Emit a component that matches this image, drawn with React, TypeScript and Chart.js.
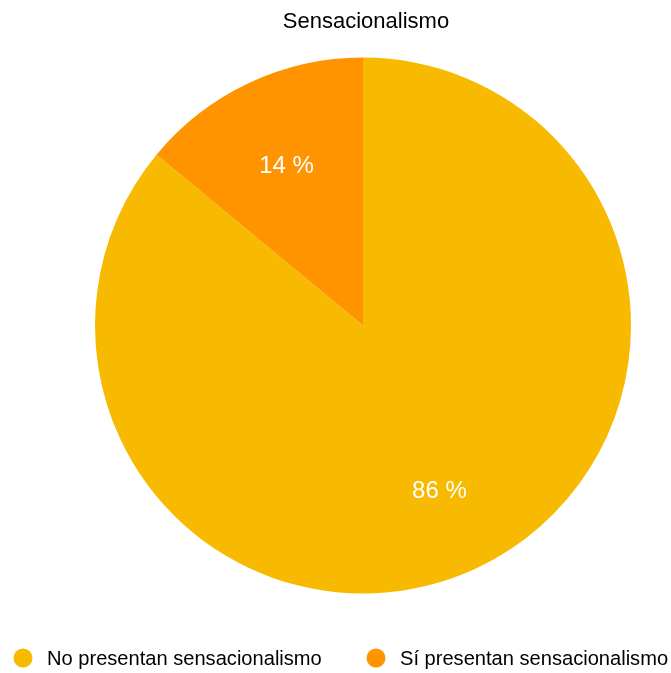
import React, { useEffect, useRef } from "react";
import { Chart, registerables } from "chart.js";

Chart.register(...registerables);

const title = "Sensacionalismo";
const categories = ["No presentan sensacionalismo", "Sí presentan sensacionalismo"];
const values = [86, 14];
const colors = ["rgb(247,186,0)", "rgb(255,148,0)"];
const FONT = "'Liberation Sans', Arial, Helvetica, sans-serif";

const overlayPlugin = {
  id: "overlay",
  afterDraw(chart: any) {
    const ctx = chart.ctx as CanvasRenderingContext2D;
    ctx.save();
    // title
    ctx.fillStyle = "#000";
    ctx.font = `22px ${FONT}`;
    ctx.textAlign = "center";
    ctx.textBaseline = "alphabetic";
    ctx.fillText(title, 366, 28);

    // percent labels
    const meta = chart.getDatasetMeta(0);
    const total = values.reduce((a, b) => a + b, 0);
    ctx.fillStyle = "#fff";
    ctx.font = `24px ${FONT}`;
    ctx.textAlign = "center";
    ctx.textBaseline = "middle";
    meta.data.forEach((arc: any, i: number) => {
      const { x, y, startAngle, endAngle, outerRadius } = arc.getProps(
        ["x", "y", "startAngle", "endAngle", "outerRadius"],
        true
      );
      const mid = (startAngle + endAngle) / 2;
      const d = outerRadius * 0.67;
      const pct = Math.round((values[i] / total) * 100);
      ctx.fillText(`${pct} %`, x + Math.cos(mid) * d, y + Math.sin(mid) * d + 3);
    });

    // legend
    const legendX = [23, 376];
    const legendY = 658;
    ctx.font = `20.1px ${FONT}`;
    ctx.textAlign = "left";
    ctx.textBaseline = "middle";
    categories.forEach((label, i) => {
      ctx.fillStyle = colors[i];
      ctx.beginPath();
      ctx.arc(legendX[i], legendY, 9.5, 0, Math.PI * 2);
      ctx.fill();
      ctx.fillStyle = "#000";
      ctx.fillText(label, legendX[i] + 24, legendY + 1);
    });
    ctx.restore();
  },
};

export default function App() {
  const ref = useRef<HTMLCanvasElement>(null);
  useEffect(() => {
    if (!ref.current) return;
    const chart = new Chart(ref.current, {
      type: "pie",
      data: {
        labels: categories,
        datasets: [
          {
            data: values,
            backgroundColor: colors,
            borderWidth: 0,
          },
        ],
      },
      options: {
        responsive: false,
        animation: false,
        layout: { padding: { top: 57, bottom: 79, left: 95, right: 40 } },
        plugins: {
          legend: { display: false },
          title: { display: false },
          tooltip: { enabled: false },
        },
      },
      plugins: [overlayPlugin],
    });
    return () => chart.destroy();
  }, []);
  return (
    <div style={{ position: "absolute", left: 0, top: 0, width: 671, height: 673, background: "#fff" }}>
      <canvas ref={ref} width={671} height={673} style={{ display: "block" }} />
    </div>
  );
}
